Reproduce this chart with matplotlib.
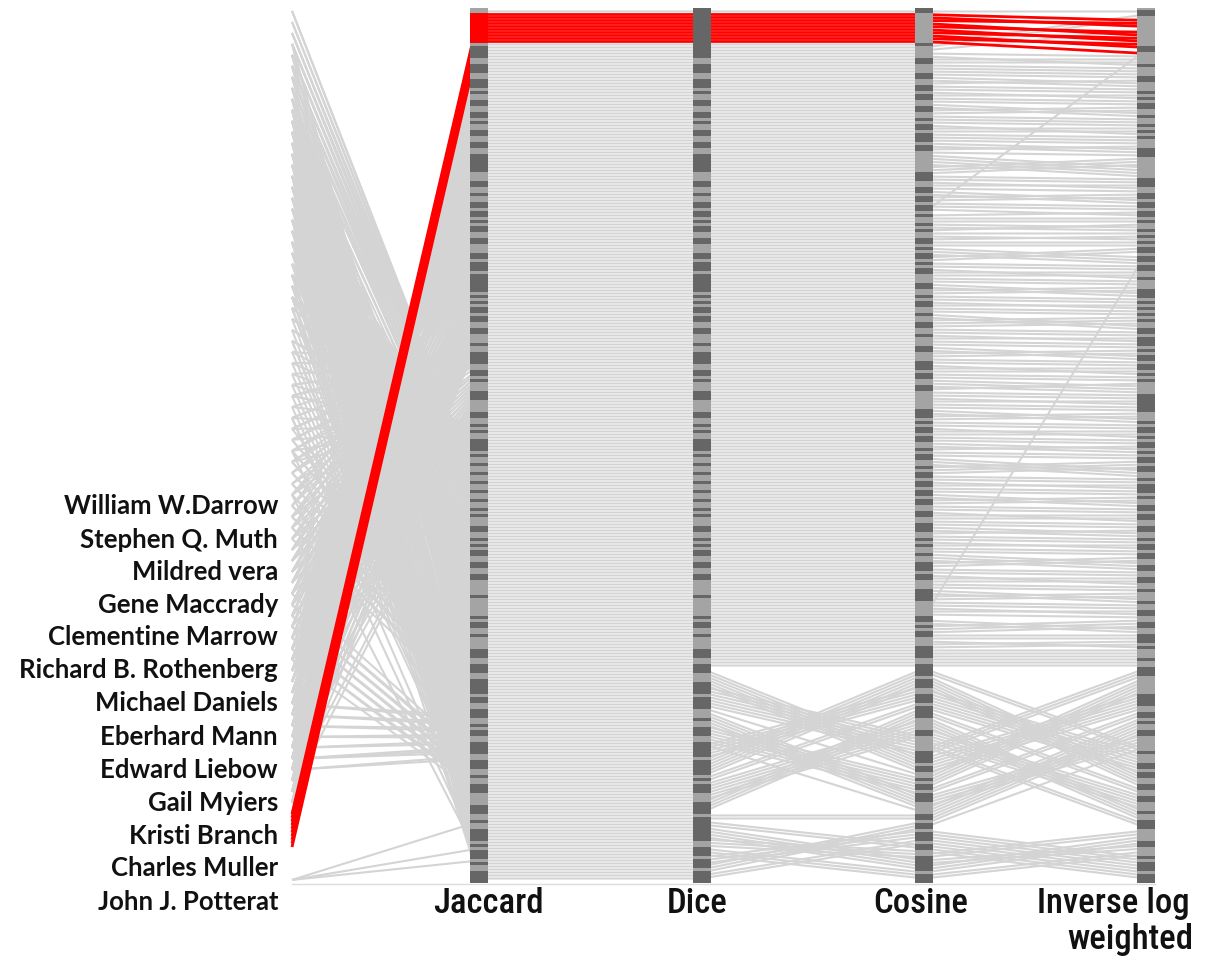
import matplotlib
matplotlib.use("Agg")
import matplotlib.pyplot as plt
from matplotlib.collections import LineCollection
from matplotlib.patches import Rectangle
from matplotlib import font_manager

# ------------------------------------------------------------------
# Data
# ------------------------------------------------------------------
metrics = ["Jaccard", "Dice", "Cosine", "Inverse log\nweighted"]

authors = ["William W.Darrow", "Stephen Q. Muth", "Mildred vera", "Gene Maccrady",
           "Clementine Marrow", "Richard B. Rothenberg", "Michael Daniels",
           "Eberhard Mann", "Edward Liebow", "Gail Myiers", "Kristi Branch",
           "Charles Muller", "John J. Potterat"]
# positions of the labelled authors on the author axis (rank units)
author_ticks = [165.3, 176.7, 187.3, 198.3, 209.0, 220.0, 231.0,
                242.3, 253.3, 264.3, 275.3, 286.0, 297.3]
author_spacing = 11 / 3  # authors sit on the axis every 11/3 rank units

n_pairs = 290            # author pairs, ranked by Jaccard score (0 = top)
highlight = (1, 11)      # Jaccard ranks of the highlighted pairs

# ribbons from the author axis into the Jaccard ranking:
# (first rank, end rank, author position of first pair, of last pair)
author_ribbons = [
    (0, 1, 279, 279),
    (1, 11, 268, 279),
    (11, 30, 266, 245),
    (30, 55, 250, 215),
    (55, 90, 230, 160),
    (90, 120, 200, 115),
    (120, 140, 170, 260),
    (140, 159, 110, 60),
    (159, 175, 0, 30),
    (175, 195, 90, 60),
    (195, 215, 30, 55),
    (215, 235, 140, 175),
    (235, 250, 230, 255),
    (250, 262, 195, 215),
    (262, 270, 110, 135),
    (270, 271, 289, 289),
    (271, 279, 35, 55),
    (279, 280, 290, 290),
    (280, 283, 135, 160),
    (283, 284, 291, 291),
    (284, 290, 55, 95),
]
# second author of each pair (the highlighted pairs share one author)
coauthor_ribbons = [
    (11, 35, 270, 238),
    (35, 70, 235, 190),
    (70, 110, 200, 260),
    (110, 135, 130, 230),
    (135, 159, 150, 75),
    (159, 200, 5, 95),
    (200, 240, 90, 10),
    (240, 270, 20, 110),
    (270, 290, 100, 30),
]

# tied-score groups shown dark on each metric bar: (first rank, end rank)
jaccard_groups = [
    (12, 16), (18, 21), (23, 26), (27, 28), (30, 32), (34, 36), (37, 38), (40, 42),
    (44, 46), (48, 54), (57, 59), (61, 62), (64, 66), (67, 69), (70, 71), (72, 74),
    (76, 78), (81, 83), (84, 87), (88, 94), (95, 96), (97, 98), (99, 101), (102, 104),
    (106, 108), (111, 112), (114, 118), (120, 122), (123, 124), (127, 130), (134, 136),
    (138, 139), (140, 141), (143, 147), (148, 149), (151, 152), (154, 155), (157, 158),
    (160, 161), (163, 164), (166, 167), (168, 169), (172, 174), (176, 177), (178, 179),
    (180, 182), (184, 186), (188, 190), (195, 196), (202, 203), (204, 206), (208, 209),
    (213, 216), (218, 221), (223, 228), (229, 231), (233, 236), (238, 239), (240, 242),
    (244, 248), (250, 253), (255, 256), (258, 261), (265, 268), (270, 271), (273, 277),
    (278, 279), (280, 283), (284, 285), (287, 291),
]
dice_groups = [
    (-1, 12), (12, 16), (18, 21), (23, 26), (27, 28), (30, 32), (34, 36), (37, 38),
    (40, 42), (44, 46), (48, 54), (57, 59), (61, 62), (64, 66), (67, 69), (70, 71),
    (72, 74), (76, 78), (81, 83), (84, 87), (88, 94), (95, 96), (97, 98), (99, 101),
    (102, 104), (106, 108), (111, 112), (114, 118), (120, 122), (123, 124), (127, 130),
    (134, 136), (138, 139), (140, 141), (143, 147), (148, 149), (151, 152), (154, 155),
    (157, 158), (160, 161), (163, 164), (166, 167), (168, 169), (172, 174), (176, 177),
    (178, 179), (180, 182), (184, 186), (188, 190), (195, 196), (202, 203), (204, 206),
    (208, 209), (213, 216), (218, 221), (224, 228), (229, 233), (236, 237), (239, 242),
    (244, 249), (250, 255), (256, 257), (258, 261), (264, 268), (269, 277), (279, 282),
    (283, 286), (287, 291),
]
cosine_groups = [
    (-1, 1), (11, 12), (16, 18), (21, 23), (25, 27), (28, 30), (32, 34), (36, 37),
    (38, 40), (41, 44), (45, 47), (54, 57), (59, 61), (62, 64), (65, 67), (68, 69),
    (71, 72), (73, 74), (76, 78), (79, 80), (81, 83), (84, 85), (86, 88), (91, 93),
    (95, 96), (97, 99), (101, 102), (104, 106), (108, 109), (112, 114), (117, 120),
    (121, 123), (125, 127), (133, 136), (137, 138), (139, 141), (142, 144), (146, 147),
    (148, 150), (152, 153), (154, 156), (157, 159), (160, 162), (163, 165), (167, 169),
    (171, 174), (176, 177), (178, 179), (181, 182), (184, 187), (188, 190), (193, 197),
    (202, 204), (205, 206), (207, 209), (212, 216), (218, 222), (223, 226), (228, 231),
    (232, 236), (240, 242), (247, 251), (252, 254), (256, 257), (258, 260), (261, 264),
    (268, 270), (271, 273), (274, 277), (278, 280), (282, 287), (288, 291),
]
inverse_log_groups = [
    (0, 2), (12, 14), (18, 19), (22, 24), (27, 28), (29, 30), (31, 33), (35, 36),
    (38, 39), (40, 41), (42, 43), (46, 49), (56, 59), (61, 63), (64, 66), (67, 69),
    (70, 71), (73, 74), (75, 76), (77, 78), (79, 81), (82, 84), (85, 87), (89, 90),
    (93, 96), (97, 98), (99, 100), (101, 102), (103, 104), (106, 108), (109, 112),
    (113, 114), (115, 117), (118, 120), (121, 122), (123, 124), (128, 134), (137, 138),
    (139, 141), (142, 143), (144, 146), (147, 148), (149, 151), (152, 154), (156, 157),
    (158, 161), (162, 163), (165, 167), (168, 170), (172, 174), (176, 177), (178, 180),
    (181, 183), (185, 187), (189, 191), (193, 194), (197, 198), (200, 202), (204, 206),
    (208, 211), (212, 213), (216, 217), (219, 222), (228, 232), (234, 236), (237, 238),
    (240, 242), (247, 248), (251, 253), (254, 256), (258, 260), (262, 264), (267, 268),
    (270, 273), (277, 279), (282, 283), (284, 287), (288, 291),
]

# reorderings between neighbouring rankings
#   ("swap", start, a, b): the block of a ranks at start drops below the next b ranks
#   ("move", src, dst):    a single pair changes rank
dice_to_cosine = [
    ("swap", 219, 26, 23), ("swap", 219, 5, 6), ("swap", 232, 6, 4),
    ("swap", 242, 6, 7), ("swap", 256, 5, 6),
    ("swap", 270, 12, 8), ("swap", 270, 3, 3), ("swap", 280, 4, 3),
]
cosine_top_order = [0, 11, 12, 1, 3, 2, 13, 5, 4, 7, 6, 9, 8, 10]
cosine_to_inverse_log = [
    ("swap", 15, 1, 2), ("swap", 22, 2, 1), ("swap", 27, 1, 1), ("swap", 31, 2, 2),
    ("swap", 38, 1, 2), ("swap", 44, 2, 1), ("swap", 48, 4, 3), ("swap", 57, 1, 1),
    ("swap", 60, 2, 2), ("swap", 66, 1, 2), ("swap", 71, 2, 1), ("swap", 75, 1, 1),
    ("swap", 79, 3, 2), ("swap", 86, 1, 2), ("swap", 91, 2, 2), ("swap", 97, 1, 1),
    ("swap", 101, 2, 3), ("swap", 108, 1, 1), ("swap", 112, 2, 2), ("swap", 118, 1, 2),
    ("swap", 123, 3, 1), ("swap", 129, 1, 1), ("swap", 133, 2, 2), ("swap", 139, 1, 2),
    ("swap", 144, 2, 1), ("swap", 149, 3, 3), ("swap", 157, 1, 1), ("swap", 161, 2, 2),
    ("swap", 167, 1, 2), ("swap", 172, 2, 1), ("swap", 177, 1, 1), ("swap", 181, 3, 2),
    ("swap", 188, 1, 2), ("swap", 193, 2, 2), ("swap", 199, 1, 1), ("swap", 203, 2, 3),
    ("swap", 210, 1, 2),
    ("move", 66, 13), ("move", 202, 81),
    ("swap", 219, 27, 27), ("swap", 222, 6, 5), ("swap", 235, 4, 6),
    ("swap", 248, 5, 7), ("swap", 262, 4, 5),
    ("swap", 273, 8, 9), ("swap", 275, 2, 3),
]

# ------------------------------------------------------------------
# Layout and style
# ------------------------------------------------------------------
AXIS_X = [292, 479, 701.5, 924, 1145.5]
LABEL_X = [488, 697, 921, (1113, 1130)]
LABEL_Y = (297.7, 310.0)
BAR_W = 18
BAR_TOP, BAR_BOTTOM = -0.7, 291.0
LINE_GREY = "#d4d4d4"
BAR_LIGHT = "#a4a4a4"
BAR_DARK = "#666666"
RED = "#ff0000"

available = {f.name for f in font_manager.fontManager.ttflist}
name_font = "Lato" if "Lato" in available else "DejaVu Sans"
metric_font = next((f for f in ["Roboto Condensed", "Liberation Sans Narrow", "Open Sans"]
                    if f in available), "DejaVu Sans")


def reorder(order, ops):
    order = list(order)
    for op in ops:
        if op[0] == "swap":
            _, s, a, b = op
            order[s:s + a + b] = order[s + a:s + a + b] + order[s:s + a]
        else:
            _, src, dst = op
            order.insert(dst, order.pop(src))
    return order


def positions(order):
    pos = [0] * len(order)
    for p, item in enumerate(order):
        pos[item] = p + 0.5
    return pos


def author_slot(l):
    # each pair starts at the author it belongs to
    base = author_ticks[0] % author_spacing
    return base + author_spacing * round((l - base) / author_spacing)


def ribbon_ends(ribbons):
    ends = {}
    for j0, j1, l0, l1 in ribbons:
        n = j1 - j0
        for k in range(n):
            l = l0 + (l1 - l0) * (k / (n - 1) if n > 1 else 0)
            in_highlight = highlight[0] <= j0 + k < highlight[1]
            ends[j0 + k] = l if in_highlight else author_slot(l)
    return ends


author_pos = ribbon_ends(author_ribbons)
coauthor_pos = ribbon_ends(coauthor_ribbons)

jaccard_order = list(range(n_pairs))
dice_order = list(jaccard_order)
cosine_order = reorder(dice_order, dice_to_cosine)
inv_order = [cosine_order[k] for k in cosine_top_order] + cosine_order[len(cosine_top_order):]
inv_order = reorder(inv_order, cosine_to_inverse_log)

ranks = [positions(o) for o in (jaccard_order, dice_order, cosine_order, inv_order)]

# ------------------------------------------------------------------
# Figure
# ------------------------------------------------------------------
fig = plt.figure(figsize=(12.06, 9.57), dpi=100)
ax = fig.add_axes([0, 0, 1, 1])
ax.set_xlim(0, 1206)
ax.set_ylim(315.67, -3.33)
ax.axis("off")

grey_lines, red_lines = [], []
for item in range(n_pairs):
    pts = [(AXIS_X[0], author_pos[item])] + \
          [(AXIS_X[i + 1], ranks[i][item]) for i in range(4)]
    (red_lines if highlight[0] <= item < highlight[1] else grey_lines).append(pts)
    if item in coauthor_pos:
        grey_lines.append([(AXIS_X[0], coauthor_pos[item]), (AXIS_X[1], ranks[0][item])])

ax.add_collection(LineCollection(grey_lines, colors=LINE_GREY, linewidths=1.5, zorder=1))
ax.add_collection(LineCollection(red_lines, colors=RED, linewidths=2.0, zorder=2))

# baseline under the chart
ax.plot([AXIS_X[0], AXIS_X[-1] + BAR_W / 2], [BAR_BOTTOM + 0.3] * 2,
        color="#dcdcdc", lw=1.0, zorder=0)

# metric bars with their tied-score groups
for x, groups in zip(AXIS_X[1:], [jaccard_groups, dice_groups, cosine_groups, inverse_log_groups]):
    ax.add_patch(Rectangle((x - BAR_W / 2, BAR_TOP), BAR_W, BAR_BOTTOM - BAR_TOP,
                           facecolor=BAR_LIGHT, lw=0, zorder=3))
    for g0, g1 in groups:
        g0, g1 = max(g0, BAR_TOP), min(g1, BAR_BOTTOM)
        ax.add_patch(Rectangle((x - BAR_W / 2, g0), BAR_W, g1 - g0,
                               facecolor=BAR_DARK, lw=0, zorder=4))
ax.add_patch(Rectangle((AXIS_X[1] - BAR_W / 2, highlight[0]), BAR_W, highlight[1] - highlight[0],
                       facecolor=RED, lw=0, zorder=5))

# author labels
for name, y in zip(authors, author_ticks):
    ax.text(278, y, name, ha="right", va="center", fontsize=18.5,
            fontweight="bold", family=name_font, color="#111111")

# metric labels
for label, lx in zip(metrics, LABEL_X):
    lines = label.split("\n")
    xs = lx if isinstance(lx, tuple) else (lx,)
    for line, x, y in zip(lines, xs, LABEL_Y):
        ax.text(x, y, line, ha="center", va="center", fontsize=25, fontweight=500,
                family=metric_font, color="#111111")

fig.savefig("out.png", dpi=100)
